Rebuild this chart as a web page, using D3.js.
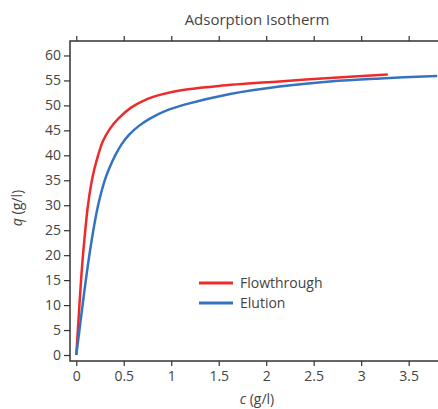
<!DOCTYPE html>
<html>
<head>
<meta charset="utf-8">
<script src="https://cdn.jsdelivr.net/npm/d3@7"></script>
<style>
  body { margin: 0; background: #fff; }
  text { font-family: "Open Sans", "Noto Sans", sans-serif; fill: #444; }
</style>
</head>
<body>
<div id="chart"></div>
<script>
// values
const flowC = [0, 0.03, 0.06, 0.09, 0.12, 0.155, 0.19, 0.23, 0.28, 0.35, 0.44, 0.58, 0.74, 0.90, 1.09, 1.5, 2.14, 2.67, 3.28];
const flowQ = [0, 9, 17.5, 24, 29.5, 34, 37.2, 40, 42.8, 45.2, 47.3, 49.6, 51.2, 52.2, 53, 53.9, 54.8, 55.5, 56.2];

const elutionC = [0, 0.04, 0.08, 0.13, 0.18, 0.23, 0.30, 0.35, 0.41, 0.48, 0.56, 0.66, 0.78, 0.94, 1.15, 1.62, 2.14, 2.67, 3.20, 3.80];
const elutionQ = [0, 6, 12, 19, 25, 30, 35, 37.5, 40, 42.3, 44.2, 45.9, 47.4, 48.9, 50.2, 52.3, 53.8, 54.8, 55.4, 55.9];

const xTicks = [0, 0.5, 1, 1.5, 2, 2.5, 3, 3.5];
const yTicks = [0, 5, 10, 15, 20, 25, 30, 35, 40, 45, 50, 55, 60];

const seriesNames = ["Flowthrough", "Elution"];
const seriesColors = ["#ee2b2b", "#3473c1"];

const width = 438, height = 409;
const margin = {top: 41, right: -2, bottom: 48, left: 70};

const svg = d3.select("#chart").append("svg")
    .attr("width", width)
    .attr("height", height);

// scales (frame edges sit a little outside 0 / 60)
const x = d3.scaleLinear()
    .domain([-0.066, 3.83])
    .range([margin.left, width - margin.right]);

const y = d3.scaleLinear()
    .domain([-1.2, 62.9])
    .range([height - margin.bottom, margin.top]);

// axes
const axisColor = "#333";

const xAxisBottom = svg.append("g")
    .attr("transform", `translate(0,${height - margin.bottom})`)
    .call(d3.axisBottom(x).tickValues(xTicks).tickFormat(d => d).tickSize(5).tickPadding(5));

const xAxisTop = svg.append("g")
    .attr("transform", `translate(0,${margin.top})`)
    .call(d3.axisTop(x).tickValues(xTicks).tickFormat("").tickSize(5));

const yAxis = svg.append("g")
    .attr("transform", `translate(${margin.left},0)`)
    .call(d3.axisLeft(y).tickValues(yTicks).tickSize(6).tickPadding(3));

[xAxisBottom, xAxisTop, yAxis].forEach(g => {
    g.select(".domain").remove();
    g.selectAll(".tick line").attr("stroke", axisColor).attr("stroke-width", 1.2);
    g.selectAll(".tick text")
        .style("font-size", "14px")
        .style("font-family", "'Open Sans', 'Noto Sans', sans-serif")
        .attr("fill", "#444");
});

// frame
svg.append("rect")
    .attr("x", margin.left)
    .attr("y", margin.top)
    .attr("width", x.range()[1] - margin.left + 5)
    .attr("height", y.range()[0] - margin.top)
    .attr("fill", "none")
    .attr("stroke", axisColor)
    .attr("stroke-width", 1.5);

// curves
const line = d3.line()
    .x(d => x(d[0]))
    .y(d => y(d[1]))
    .curve(d3.curveCatmullRom.alpha(0.5));

const series = [
    d3.zip(flowC, flowQ),
    d3.zip(elutionC, elutionQ)
];

series.forEach((pts, i) => {
    svg.append("path")
        .datum(pts)
        .attr("d", line)
        .attr("fill", "none")
        .attr("stroke", seriesColors[i])
        .attr("stroke-width", 2.5);
});

// legend
const legend = svg.append("g").attr("transform", "translate(199,283)");
seriesNames.forEach((name, i) => {
    legend.append("line")
        .attr("x1", 0).attr("x2", 34)
        .attr("y1", i * 20).attr("y2", i * 20)
        .attr("stroke", seriesColors[i])
        .attr("stroke-width", 3);
    legend.append("text")
        .attr("x", 41)
        .attr("y", i * 20 + 5)
        .style("font-size", "14px")
        .text(name);
});

// titles
svg.append("text")
    .attr("x", 257)
    .attr("y", 25)
    .attr("text-anchor", "middle")
    .style("font-size", "15px")
    .text("Adsorption Isotherm");

const xLabel = svg.append("text")
    .attr("x", 257)
    .attr("y", 404)
    .attr("text-anchor", "middle")
    .style("font-size", "14px");
xLabel.append("tspan").style("font-style", "italic").text("c");
xLabel.append("tspan").text(" (g/l)");

const yLabel = svg.append("text")
    .attr("transform", "translate(22,208) rotate(-90)")
    .attr("text-anchor", "middle")
    .style("font-size", "14px");
yLabel.append("tspan").style("font-style", "italic").text("q");
yLabel.append("tspan").text(" (g/l)");
</script>
</body>
</html>
